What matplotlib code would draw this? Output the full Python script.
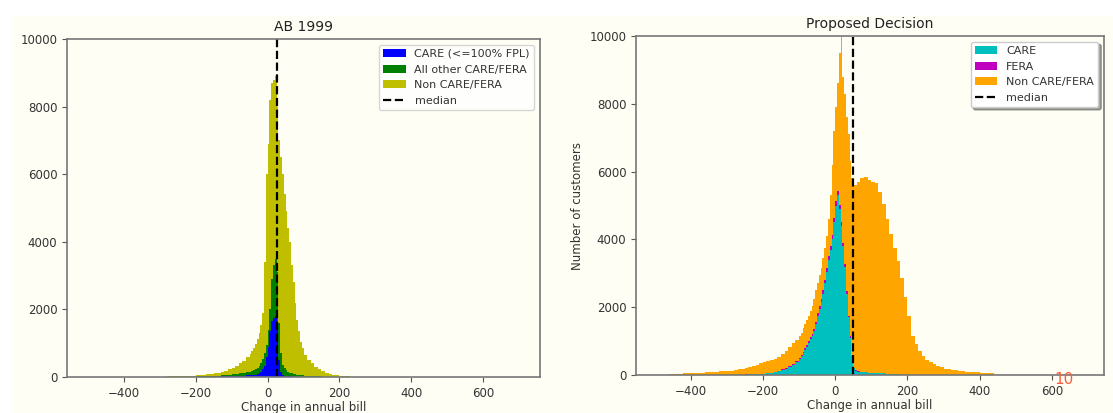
import numpy as np
import matplotlib
matplotlib.use("Agg")
import matplotlib.pyplot as plt
from matplotlib.patches import Rectangle

# ---- AB 1999 (left) ----
# bins: 10 wide from -300 to -50, 5 wide from -50 to 100, 10 wide from 100 to 280
left_edges = np.concatenate([np.arange(-300, -50, 10), np.arange(-50, 100, 5), np.arange(100, 290, 10)])
left_labels = ["CARE (<=100% FPL)", "All other CARE/FERA", "Non CARE/FERA"]
left_colors = ["b", "g", "y"]
left_care = [1, 1, 2, 2, 2, 3, 3, 4, 4, 5, 6, 7, 8, 9, 10, 12, 14, 16, 19, 22, 26, 30, 35, 40, 45,
             50, 55, 60, 70, 85, 110, 160, 230, 330, 600, 900, 1350, 1650, 1750, 1800, 1500, 500, 150, 60, 40,
             30, 25, 20, 15, 12, 10, 8, 6, 5, 4,
             3, 2, 2, 1, 1, 1, 1, 0, 0, 0, 0, 0, 0, 0, 0, 0, 0, 0]
left_other = [2, 2, 2, 3, 4, 4, 5, 5, 7, 8, 9, 10, 12, 14, 17, 20, 24, 29, 36, 43, 52, 60, 70, 80, 90,
              100, 115, 140, 160, 185, 210, 240, 290, 370, 350, 500, 650, 1250, 1550, 1700, 1600, 1100, 550, 290, 220,
              170, 135, 110, 95, 83, 70, 62, 54, 45, 41,
              37, 30, 24, 20, 16, 13, 10, 9, 7, 5, 4, 3, 2, 2, 1, 1, 0, 0]
left_non = [7, 7, 11, 10, 14, 13, 17, 21, 24, 27, 35, 38, 45, 57, 68, 78, 92, 115, 135, 165, 202, 240, 295, 360, 445,
            530, 590, 660, 750, 850, 980, 1150, 1380, 2700, 5050, 5500, 6200, 5800, 5500, 5400, 4900, 5400, 5800, 5650, 5140,
            4700, 4240, 3870, 3190, 2705, 2120, 1630, 1290, 1000, 805,
            610, 468, 374, 279, 213, 156, 109, 81, 58, 40, 31, 22, 16, 10, 7, 4, 3, 2]
left_median = 25

# ---- Proposed Decision (right) ----
right_edges = np.concatenate([np.arange(-460, -300, 20), np.arange(-300, -100, 10), np.arange(-100, 60, 5),
                              np.arange(60, 300, 10), np.arange(300, 480, 20)])
right_labels = ["CARE", "FERA", "Non CARE/FERA"]
right_colors = ["c", "m", "orange"]
right_care = [0, 0, 0, 1, 1, 2, 3, 4,
              5, 6, 7, 9, 11, 13, 15, 18, 22, 27, 35, 45, 60, 80, 110, 150, 190, 240, 300, 380,
              480, 560, 650, 740, 830, 940, 1050, 1150, 1300, 1500, 1750, 1950, 2150, 2400, 2700, 3050,
              3400, 3700, 4000, 4500, 5000, 5300, 4900, 4400, 3800, 3200, 2400, 1700, 1100, 550, 200, 130,
              100, 85, 75, 65, 60, 55, 50, 45, 40, 30, 20, 15, 10, 8, 6, 5, 4, 3, 2, 2, 1, 1, 1, 0,
              0, 0, 0, 0, 0, 0, 0, 0]
right_fera = [0, 0, 0, 0, 0, 1, 1, 1,
              2, 2, 2, 3, 3, 3, 4, 4, 5, 5, 6, 7, 8, 10, 12, 15, 18, 22, 26, 30,
              34, 38, 42, 46, 50, 55, 60, 65, 70, 75, 80, 85, 90, 95, 100, 105,
              110, 115, 120, 125, 130, 130, 125, 115, 100, 85, 70, 55, 40, 25, 15, 12,
              10, 9, 8, 7, 6, 5, 5, 4, 4, 3, 3, 2, 2, 2, 1, 1, 1, 1, 1, 0, 0, 0, 0, 0,
              0, 0, 0, 0, 0, 0, 0, 0]
right_non = [25, 35, 45, 54, 64, 77, 91, 105,
             113, 122, 136, 153, 176, 199, 221, 248, 273, 308, 329, 348, 362, 380, 408, 455, 512, 568, 614, 630,
             636, 652, 688, 714, 740, 755, 790, 835, 880, 925, 870, 915, 910, 955, 950, 945,
             1090, 1485, 2080, 2575, 2770, 3170, 4475, 5685, 4900, 5015, 5130, 5345, 5160, 5225, 5385, 5458,
             5590, 5706, 5767, 5678, 5634, 5590, 5345, 5001, 4556, 4117, 3727, 3333, 2838, 2290, 1743, 1144,
             895, 696, 547, 448, 379, 319, 269, 230,
             190, 150, 120, 100, 85, 70, 50, 10]
right_median = 50

beige = "#fefef4"
W, H = 1113, 413

fig = plt.figure(figsize=(W / 100, H / 100), dpi=100, facecolor=beige)
ax1 = fig.add_axes([67 / W, 36 / H, 473 / W, 338 / H])
ax2 = fig.add_axes([636 / W, 38 / H, 468 / W, 339 / H])


def draw(ax, edges, series, colors, labels, median, title, xlim, shadow):
    centers = (edges[:-1] + edges[1:]) / 2
    ax.set_facecolor(beige)
    ax.hist([centers] * len(series), bins=edges, weights=series, stacked=True,
            histtype="stepfilled", color=colors, label=labels)
    ax.axvline(median, color="k", ls="--", lw=1.6, label="median")
    ax.set_xlim(*xlim)
    ax.set_ylim(0, 10000)
    ax.set_title(title, fontsize=10, color="#222222")
    ax.set_xlabel("Change in annual bill", fontsize=8.5, color="#333333", labelpad=1)
    ax.set_ylabel("Number of customers", fontsize=8.5, color="#333333")
    ax.tick_params(labelsize=8.5, colors="#555555", labelcolor="#333333")
    for s in ax.spines.values():
        s.set_color("#777777")
        s.set_linewidth(1.2)
    # keep legend in the series order: bottom layer first, median last
    handles, names = ax.get_legend_handles_labels()
    lookup = dict(zip(names, handles))
    order = labels + ["median"]
    ax.legend([lookup[n] for n in order], order, loc="upper right", fontsize=8,
              shadow=shadow, labelcolor="#333333")


draw(ax1, left_edges, [left_care, left_other, left_non], left_colors, left_labels,
     left_median, "AB 1999", (-557, 757), False)
draw(ax2, right_edges, [right_care, right_fera, right_non], right_colors, right_labels,
     right_median, "Proposed Decision", (-551, 744), True)

# white border of the screenshot (hides most of the left y label)
fig.add_artist(Rectangle((0, 0), 11 / W, 1, transform=fig.transFigure, color="white", zorder=20))
fig.add_artist(Rectangle((0, 1 - 15 / H), 1, 15 / H, transform=fig.transFigure, color="white", zorder=20))

# slide page number
fig.text(1064 / W, 1 - 380 / H, "10", color="#ff5a3c", fontsize=11, ha="center", va="center", zorder=21)

fig.savefig("out.png", dpi=100, facecolor=fig.get_facecolor())
